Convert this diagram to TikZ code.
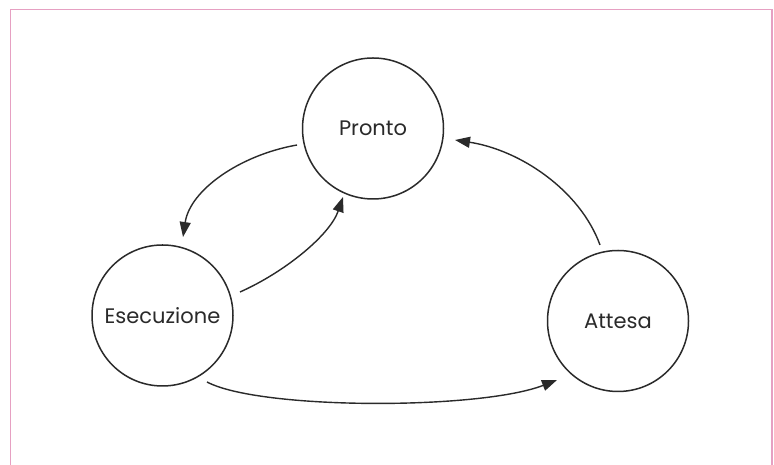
\documentclass[tikz,border=0pt]{standalone}
\usepackage{fontspec}
\setmainfont{Poppins}
\usetikzlibrary{arrows.meta,calc}
\definecolor{framepink}{HTML}{E6A0C2}
\definecolor{ink}{HTML}{2A2A2A}
\tikzset{
  state/.style={circle,draw=ink,line width=1.5pt,minimum size=141pt,inner sep=0pt,text=ink,font=\fontsize{21}{24}\selectfont},
  conn/.style={draw=ink,line width=1.4pt,-{Triangle[length=15pt,width=11pt]}}
}
\begin{document}
\begin{tikzpicture}[x=1pt,y=1pt]
\useasboundingbox (0,0) rectangle (774,465);
\fill[white] (0,0) rectangle (774,465);
\draw[framepink,line width=1.6pt] (10.5,0) -- (10.5,455.5) -- (772,455.5) -- (772,0);
\node[state] (P) at (373,336.5) {\raisebox{-3pt}{Pronto}};
\node[state] (E) at (162.5,149.5) {\raisebox{-3pt}{Esecuzione}};
\node[state] (A) at (618,144) {\raisebox{-3pt}{Attesa}};
\draw[conn] ($(P)+(-76,-16.5)$) .. controls (240,310) and (190,275) .. ($(E)+(20.5,78.5)$);
\draw[conn] ($(E)+(77.5,23.5)$) .. controls (285,193) and (330,230) .. ($(P)+(-30,-68.5)$);
\draw[conn] ($(A)+(-18,76)$) .. controls (580,275) and (520,315) .. ($(P)+(82,-11.5)$);
\draw[conn] ($(E)+(44.5,-66.5)$) .. controls (260,55) and (480,55) .. ($(A)+(-61,-59)$);
\end{tikzpicture}
\end{document}
